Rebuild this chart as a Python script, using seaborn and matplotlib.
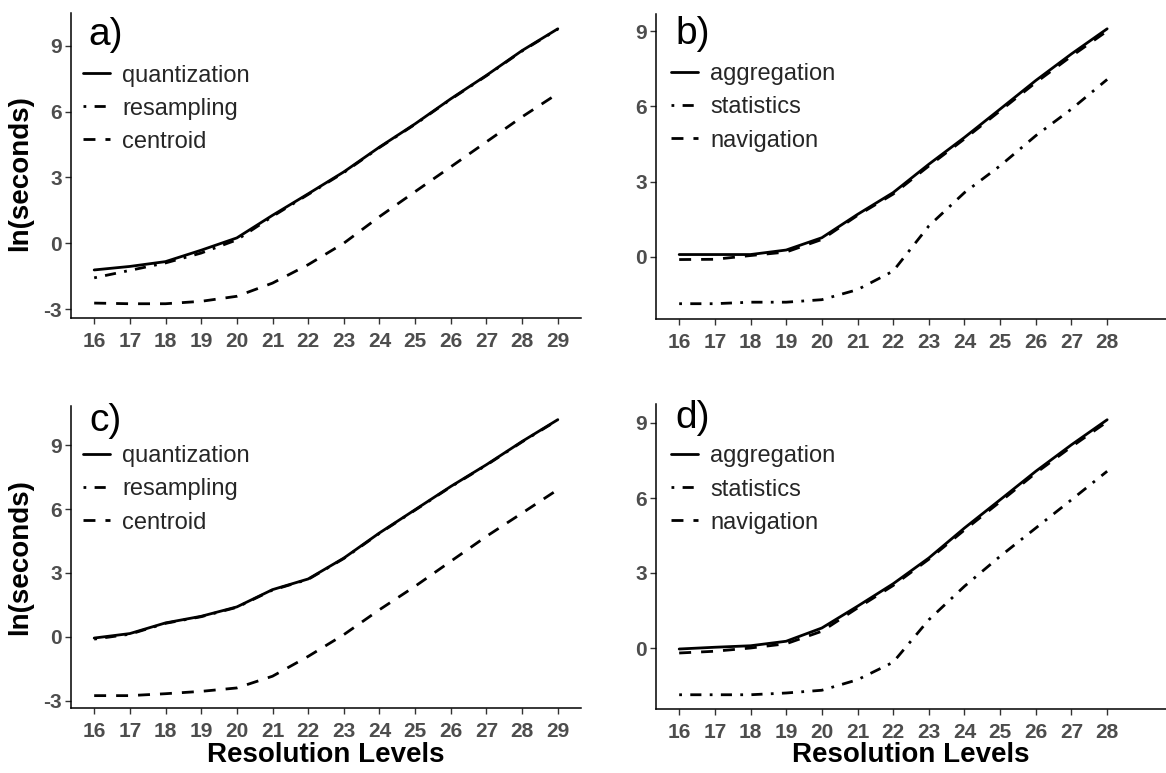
import numpy as np
import pandas as pd
import matplotlib
matplotlib.use("Agg")
import matplotlib.pyplot as plt
import seaborn as sns

# ---------------- data ----------------
levels_ac = [16, 17, 18, 19, 20, 21, 22, 23, 24, 25, 26, 27, 28, 29]
levels_bd = [16, 17, 18, 19, 20, 21, 22, 23, 24, 25, 26, 27, 28]

a_quantization = [-1.22, -1.06, -0.84, -0.32, 0.24, 1.27, 2.25, 3.25, 4.38, 5.44, 6.58, 7.65, 8.78, 9.77]
a_resampling   = [-1.58, -1.24, -0.90, -0.45, 0.15, 1.22, 2.22, 3.22, 4.36, 5.42, 6.56, 7.63, 8.76, 9.75]
a_centroid     = [-2.73, -2.76, -2.76, -2.65, -2.42, -1.82, -0.98, 0.00, 1.21, 2.35, 3.48, 4.62, 5.76, 6.82]

b_aggregation  = [0.09, 0.09, 0.09, 0.27, 0.76, 1.69, 2.56, 3.69, 4.76, 5.89, 7.03, 8.09, 9.09]
b_statistics   = [-1.87, -1.87, -1.81, -1.81, -1.71, -1.31, -0.57, 1.23, 2.56, 3.63, 4.83, 5.89, 7.07]
b_navigation   = [-0.11, -0.10, 0.05, 0.19, 0.69, 1.65, 2.50, 3.62, 4.70, 5.82, 6.95, 8.00, 9.00]

c_quantization = [-0.05, 0.16, 0.66, 0.97, 1.41, 2.22, 2.72, 3.70, 4.88, 5.97, 7.06, 8.08, 9.17, 10.19]
c_resampling   = [-0.10, 0.13, 0.64, 0.95, 1.39, 2.20, 2.70, 3.68, 4.86, 5.95, 7.04, 8.06, 9.15, 10.17]
c_centroid     = [-2.75, -2.75, -2.66, -2.55, -2.39, -1.84, -0.91, 0.11, 1.28, 2.38, 3.55, 4.72, 5.81, 6.91]

d_aggregation  = [-0.04, 0.03, 0.09, 0.27, 0.80, 1.67, 2.57, 3.60, 4.80, 5.93, 7.07, 8.13, 9.13]
d_statistics   = [-1.87, -1.87, -1.87, -1.80, -1.69, -1.27, -0.57, 1.13, 2.47, 3.67, 4.80, 5.93, 7.07]
d_navigation   = [-0.20, -0.13, 0.00, 0.17, 0.67, 1.60, 2.50, 3.55, 4.72, 5.85, 7.00, 8.05, 9.05]

methods_ac = ["quantization", "resampling", "centroid"]
methods_bd = ["aggregation", "statistics", "navigation"]
panel_letters = ["a)", "b)", "c)", "d)"]
yticks_ac = [-3, 0, 3, 6, 9]
yticks_bd = [0, 3, 6, 9]

# ---------------- style ----------------
sns.set_theme(style="ticks")
plt.rcParams["font.family"] = ["Liberation Sans", "DejaVu Sans"]
plt.rcParams["axes.unicode_minus"] = False

W, H = 1166, 773
fig = plt.figure(figsize=(W / 100, H / 100), dpi=100)

def frac_rect(left, top, right, bottom):
    return [left / W, 1 - bottom / H, (right - left) / W, (bottom - top) / H]

rects = [
    frac_rect(71, 13, 581, 318),
    frac_rect(656, 14, 1166, 319),
    frac_rect(71, 406, 581, 708),
    frac_rect(656, 404, 1166, 709),
]
ylims = [(-3.41, 10.49), (-2.48, 9.68), (-3.33, 10.83), (-2.44, 9.76)]
legend_anchor = [(0.005, 0.862), (0.011, 0.869), (0.005, 0.901), (0.011, 0.895)]
ylabel_y = [0.474, None, 0.5, None]
xlabel_y = [None, None, -0.113, -0.108]

panels = [
    (levels_ac, methods_ac, [a_quantization, a_resampling, a_centroid], yticks_ac),
    (levels_bd, methods_bd, [b_aggregation, b_statistics, b_navigation], yticks_bd),
    (levels_ac, methods_ac, [c_quantization, c_resampling, c_centroid], yticks_ac),
    (levels_bd, methods_bd, [d_aggregation, d_statistics, d_navigation], yticks_bd),
]

lw = 2.0
for i, (levels, methods, series, yt) in enumerate(panels):
    ax = fig.add_axes(rects[i])
    rows = []
    for m, vals in zip(methods, series):
        for lv, v in zip(levels, vals):
            rows.append({"level": lv, "value": v, "method": m})
    df = pd.DataFrame(rows)
    dashes = {methods[0]: "", methods[1]: (1, 3, 4, 3), methods[2]: (4.3, 3.6)}
    sns.lineplot(data=df, x="level", y="value", style="method", style_order=methods,
                 dashes=dashes, color="black", linewidth=lw, ax=ax, legend=True)
    handles, labels = ax.get_legend_handles_labels()
    ax.legend(handles, labels, loc="upper left", bbox_to_anchor=legend_anchor[i],
              frameon=False, fontsize=17, handlelength=1.15, handletextpad=0.5,
              labelspacing=0.47, borderaxespad=0.0)

    ax.set_xlim(15.35, 29.65)
    ax.set_ylim(*ylims[i])
    ax.set_xticks(levels)
    ax.set_xticklabels([str(v) for v in levels])
    ax.set_yticks(yt)
    ax.set_yticklabels([str(v) for v in yt])
    for lab in ax.get_xticklabels() + ax.get_yticklabels():
        lab.set_fontweight("bold")
        lab.set_color("#4D4D4D")
        lab.set_fontsize(15)
    ax.tick_params(axis="both", length=4, width=1.0, color="#333333")
    ax.tick_params(axis="x", pad=6)
    ax.tick_params(axis="y", pad=2.5)
    sns.despine(ax=ax)
    for s in ["left", "bottom"]:
        ax.spines[s].set_linewidth(1.1)
        ax.spines[s].set_color("black")

    if ylabel_y[i] is not None:
        ax.set_ylabel("ln(seconds)", fontsize=20, fontweight="bold", color="black")
        ax.yaxis.set_label_coords(-0.0745, ylabel_y[i])
    else:
        ax.set_ylabel("")
    if xlabel_y[i] is not None:
        ax.set_xlabel("Resolution Levels", fontsize=20, fontweight="bold", color="black")
        ax.xaxis.set_label_coords(0.5, xlabel_y[i])
    else:
        ax.set_xlabel("")

# panel letters (figure pixel positions, baseline)
letter_pos = [(88, 45), (675, 44), (89, 431), (675, 428)]
for (x, y), t in zip(letter_pos, panel_letters):
    fig.text(x / W, 1 - y / H, t, fontsize=28, va="baseline", ha="left", color="black")

fig.savefig("out.png", dpi=100)
